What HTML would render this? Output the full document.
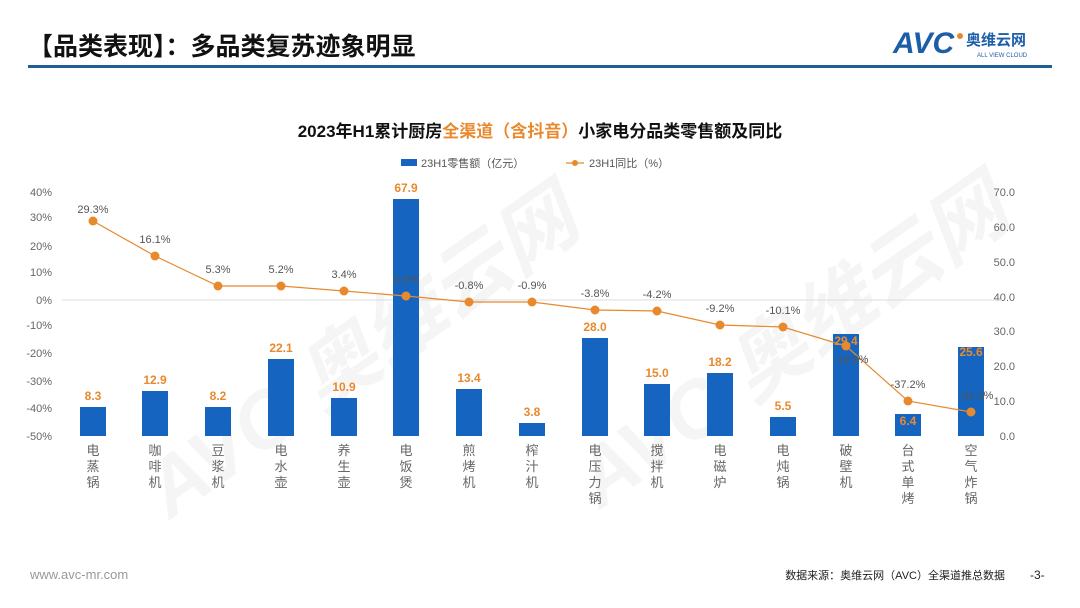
<!DOCTYPE html>
<html><head><meta charset="utf-8"><style>
body{margin:0;background:#fff;}
svg{display:block;font-family:"Liberation Sans","Noto Sans CJK SC",sans-serif;}
</style></head><body>
<svg width="1080" height="608" viewBox="0 0 1080 608">
<g fill="#000" opacity="0.035" font-weight="bold" font-style="italic">
<text x="170" y="520" font-size="80" transform="rotate(-35 170 520)">AVC 奥维云网</text>
<text x="600" y="510" font-size="80" transform="rotate(-35 600 510)">AVC 奥维云网</text>
</g>
<text x="28" y="55" font-size="25" font-weight="bold" fill="#111">【品类表现】：多品类复苏迹象明显</text>
<text x="893" y="53" font-size="30" font-weight="bold" fill="#1c5ea8" font-style="italic">AVC</text>
<circle cx="960" cy="36" r="3" fill="#e8892e"/>
<text x="966" y="45" font-size="15" font-weight="bold" fill="#1c5ea8">奥维云网</text>
<text x="977" y="57" font-size="6" fill="#1c5ea8">ALL VIEW CLOUD</text>
<rect x="28" y="65" width="1024" height="3" fill="#1f5d97"/>
<text x="540" y="137" font-size="17" font-weight="bold" fill="#111" text-anchor="middle">2023年H1累计厨房<tspan fill="#e8892e">全渠道（含抖音）</tspan>小家电分品类零售额及同比</text>
<rect x="401" y="159" width="16" height="7" fill="#1565c0"/>
<text x="421" y="167" font-size="11" fill="#555">23H1零售额（亿元）</text>
<line x1="566" y1="163" x2="584" y2="163" stroke="#e8892e" stroke-width="1.2"/><circle cx="575" cy="163" r="3" fill="#e8892e"/>
<text x="589" y="167" font-size="11" fill="#555">23H1同比（%）</text>
<g font-size="11" fill="#666" text-anchor="end">
<text x="52" y="196">40%</text><text x="52" y="221">30%</text><text x="52" y="250">20%</text><text x="52" y="276">10%</text><text x="52" y="304">0%</text><text x="52" y="329">-10%</text><text x="52" y="357">-20%</text><text x="52" y="385">-30%</text><text x="52" y="412">-40%</text><text x="52" y="440">-50%</text>
</g>
<g font-size="11" fill="#666" text-anchor="end">
<text x="1015" y="196">70.0</text><text x="1015" y="231">60.0</text><text x="1015" y="266">50.0</text><text x="1015" y="301">40.0</text><text x="1015" y="335">30.0</text><text x="1015" y="370">20.0</text><text x="1015" y="405">10.0</text><text x="1015" y="440">0.0</text>
</g>
<line x1="62" y1="300" x2="1002" y2="300" stroke="#ddd"/>
<g fill="#1565c0">
<rect x="80" y="407" width="26" height="29"/>
<rect x="142" y="391" width="26" height="45"/>
<rect x="205" y="407" width="26" height="29"/>
<rect x="268" y="359" width="26" height="77"/>
<rect x="331" y="398" width="26" height="38"/>
<rect x="393" y="199" width="26" height="237"/>
<rect x="456" y="389" width="26" height="47"/>
<rect x="519" y="423" width="26" height="13"/>
<rect x="582" y="338" width="26" height="98"/>
<rect x="644" y="384" width="26" height="52"/>
<rect x="707" y="373" width="26" height="63"/>
<rect x="770" y="417" width="26" height="19"/>
<rect x="833" y="334" width="26" height="102"/>
<rect x="895" y="414" width="26" height="22"/>
<rect x="958" y="347" width="26" height="89"/>
</g>
<g font-size="12" font-weight="bold" fill="#e8892e" text-anchor="middle">
<text x="93" y="400">8.3</text><text x="155" y="384">12.9</text><text x="218" y="400">8.2</text><text x="281" y="352">22.1</text><text x="344" y="391">10.9</text><text x="406" y="192">67.9</text><text x="469" y="382">13.4</text><text x="532" y="416">3.8</text><text x="595" y="331">28.0</text><text x="657" y="377">15.0</text><text x="720" y="366">18.2</text><text x="783" y="410">5.5</text><text x="846" y="345">29.4</text><text x="908" y="425">6.4</text><text x="971" y="356">25.6</text>
</g>
<polyline fill="none" stroke="#e8892e" stroke-width="1.2" points="93,221 155,256 218,286 281,286 344,291 406,296 469,302 532,302 595,310 657,311 720,325 783,327 846,346 908,401 971,412"/>
<g fill="#e8892e">
<circle cx="93" cy="221" r="4.5"/><circle cx="155" cy="256" r="4.5"/><circle cx="218" cy="286" r="4.5"/><circle cx="281" cy="286" r="4.5"/><circle cx="344" cy="291" r="4.5"/><circle cx="406" cy="296" r="4.5"/><circle cx="469" cy="302" r="4.5"/><circle cx="532" cy="302" r="4.5"/><circle cx="595" cy="310" r="4.5"/><circle cx="657" cy="311" r="4.5"/><circle cx="720" cy="325" r="4.5"/><circle cx="783" cy="327" r="4.5"/><circle cx="846" cy="346" r="4.5"/><circle cx="908" cy="401" r="4.5"/><circle cx="971" cy="412" r="4.5"/>
</g>
<g font-size="11" fill="#555" text-anchor="middle">
<text x="93" y="213">29.3%</text><text x="155" y="243">16.1%</text><text x="218" y="273">5.3%</text><text x="281" y="273">5.2%</text><text x="344" y="278">3.4%</text><text x="406" y="283">0.0%</text><text x="469" y="289">-0.8%</text><text x="532" y="289">-0.9%</text><text x="595" y="297">-3.8%</text><text x="657" y="298">-4.2%</text><text x="720" y="312">-9.2%</text><text x="783" y="314">-10.1%</text><text x="851" y="363">-16.9%</text><text x="908" y="388">-37.2%</text><text x="976" y="399">-41.3%</text>
</g>
<g font-size="13" fill="#666" text-anchor="middle">
<text x="93" y="455">电</text><text x="93" y="471">蒸</text><text x="93" y="487">锅</text>
<text x="155" y="455">咖</text><text x="155" y="471">啡</text><text x="155" y="487">机</text>
<text x="218" y="455">豆</text><text x="218" y="471">浆</text><text x="218" y="487">机</text>
<text x="281" y="455">电</text><text x="281" y="471">水</text><text x="281" y="487">壶</text>
<text x="344" y="455">养</text><text x="344" y="471">生</text><text x="344" y="487">壶</text>
<text x="406" y="455">电</text><text x="406" y="471">饭</text><text x="406" y="487">煲</text>
<text x="469" y="455">煎</text><text x="469" y="471">烤</text><text x="469" y="487">机</text>
<text x="532" y="455">榨</text><text x="532" y="471">汁</text><text x="532" y="487">机</text>
<text x="595" y="455">电</text><text x="595" y="471">压</text><text x="595" y="487">力</text><text x="595" y="503">锅</text>
<text x="657" y="455">搅</text><text x="657" y="471">拌</text><text x="657" y="487">机</text>
<text x="720" y="455">电</text><text x="720" y="471">磁</text><text x="720" y="487">炉</text>
<text x="783" y="455">电</text><text x="783" y="471">炖</text><text x="783" y="487">锅</text>
<text x="846" y="455">破</text><text x="846" y="471">壁</text><text x="846" y="487">机</text>
<text x="908" y="455">台</text><text x="908" y="471">式</text><text x="908" y="487">单</text><text x="908" y="503">烤</text>
<text x="971" y="455">空</text><text x="971" y="471">气</text><text x="971" y="487">炸</text><text x="971" y="503">锅</text>
</g>
<text x="30" y="579" font-size="13" fill="#999">www.avc-mr.com</text>
<text x="1005" y="579" font-size="11" fill="#222" text-anchor="end">数据来源：奥维云网（AVC）全渠道推总数据</text>
<text x="1030" y="579" font-size="12" fill="#222">-3-</text>
</svg>
</body></html>
